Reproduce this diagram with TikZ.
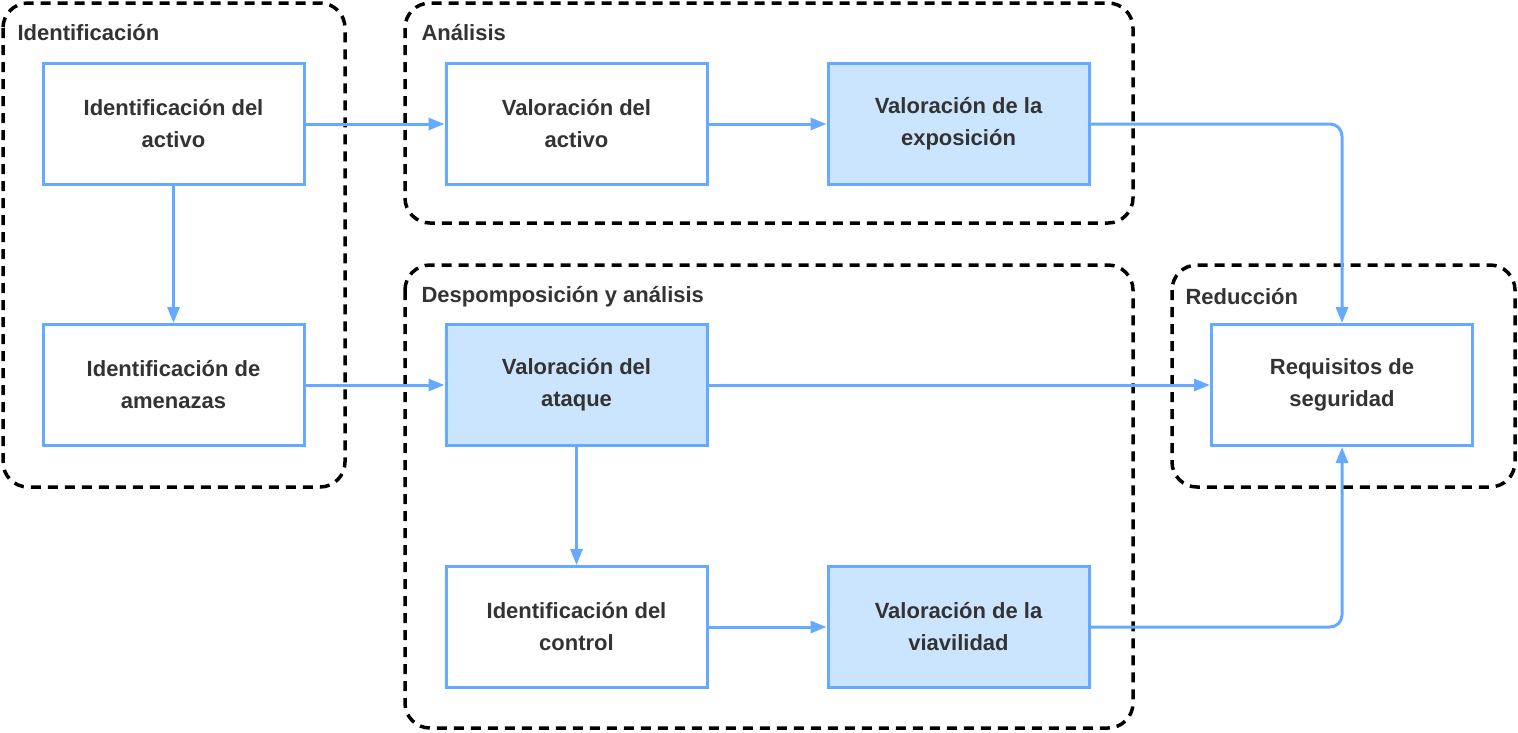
\documentclass[tikz,border=0pt]{standalone}
\usepackage{fontspec}
\setmainfont{Liberation Sans}
\usetikzlibrary{arrows.meta}
\definecolor{ln}{HTML}{66AAFF}
\definecolor{fl}{HTML}{CCE5FF}
\definecolor{tx}{HTML}{333333}
\begin{document}
\begin{tikzpicture}[x=1pt,y=-1pt,
 box/.style={draw=ln,line width=3pt,fill=white,minimum width=261pt,minimum height=121pt,align=center,font=\fontsize{22}{32}\selectfont\bfseries,text=tx},
 hl/.style={box,fill=fl},
 grp/.style={draw=black,line width=3.5pt,dash pattern=on 10pt off 7pt,rounded corners=25pt},
 lab/.style={anchor=west,font=\fontsize{22}{26}\selectfont\bfseries,text=tx},
 ar/.style={draw=ln,line width=3pt,-{Triangle[length=16pt,width=12pt]},rounded corners=12pt}]
\useasboundingbox (0,0) rectangle (1518,732);
\draw[grp] (3,3) rectangle (345,487);
\draw[grp] (405,3) rectangle (1133,223);
\draw[grp] (405,265) rectangle (1133,728);
\draw[grp] (1172,265) rectangle (1515,487);
\node[lab] (l1) at (14,33) {Identificación};
\node[lab] (l2) at (418,33) {Análisis};
\node[lab] (l3) at (418,297) {Despomposición y análisis};
\node[lab] (l4) at (1182,297) {Reducción};
\node[box] (ia) at (173.5,124) {Identificación del\\activo};
\node[box] (iam) at (173.5,385) {Identificación de\\amenazas};
\node[box] (va) at (576.5,124) {Valoración del\\activo};
\node[hl] (ve) at (958.5,124) {Valoración de la\\exposición};
\node[hl] (vat) at (576.5,385) {Valoración del\\ataque};
\node[box] (ic) at (576.5,627) {Identificación del\\control};
\node[hl] (vv) at (958.5,627) {Valoración de la\\viavilidad};
\node[box] (rs) at (1342,385) {Requisitos de\\seguridad};
\draw[ar] (ia.east) -- (va.west);
\draw[ar] (va.east) -- (ve.west);
\draw[ar] (ve.east) -- (rs.north |- ve.east) -- (rs.north);
\draw[ar] (ia.south) -- (iam.north);
\draw[ar] (iam.east) -- (vat.west);
\draw[ar] (vat.east) -- (rs.west);
\draw[ar] (vat.south) -- (ic.north);
\draw[ar] (ic.east) -- (vv.west);
\draw[ar] (vv.east) -- (rs.south |- vv.east) -- (rs.south);
\end{tikzpicture}
\end{document}
